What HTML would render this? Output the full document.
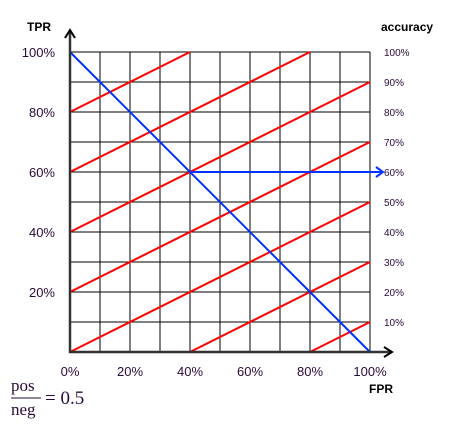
<!DOCTYPE html>
<html><head><meta charset="utf-8"><style>
body{margin:0;background:#fff;width:464px;height:430px;overflow:hidden}
svg text{font-family:"Liberation Sans",sans-serif}
</style></head><body>
<svg id="c" width="464" height="430"></svg>
<script>
const gridTicks=[0,0.1,0.2,0.3,0.4,0.5,0.6,0.7,0.8,0.9,1];
const leftTicks=[0.2,0.4,0.6,0.8,1];
const leftLabels=["20%","40%","60%","80%","100%"];
const bottomTicks=[0,0.2,0.4,0.6,0.8,1];
const bottomLabels=["0%","20%","40%","60%","80%","100%"];
const accTicks=[0.1,0.2,0.3,0.4,0.5,0.6,0.7,0.8,0.9,1];
const accLabels=["10%","20%","30%","40%","50%","60%","70%","80%","90%","100%"];
const isoOffsets=[0.8,0.6,0.4,0.2,0,-0.2,-0.4];
const isoSlope=0.5;
const chanceLine=[[0,1],[1,0]];
const highlightY=0.6, highlightX0=0.4;
const X=v=>70+v*300, Y=v=>352-v*300;
const s=document.getElementById('c'),NS="http://www.w3.org/2000/svg";
function el(t,a,txt){const e=document.createElementNS(NS,t);for(const k in a)e.setAttribute(k,a[k]);if(txt!=null)e.textContent=txt;s.appendChild(e);return e;}
gridTicks.forEach(v=>{
 let l=el('line',{x1:X(v),x2:X(v),y1:Y(0),y2:Y(1),stroke:'#000','stroke-width':1});
 
 
 l=el('line',{x1:X(0),x2:X(1),y1:Y(v),y2:Y(v),stroke:'#000','stroke-width':1});
 
 
});
isoOffsets.forEach(c=>{
 let x0=c<0?-c/isoSlope:0, y0=c<0?0:c;
 let x1=Math.min(1,(1-c)/isoSlope), y1=c+isoSlope*x1;
 const l=el('line',{x1:X(x0),y1:Y(y0),x2:X(x1),y2:Y(y1),stroke:'#f00','stroke-width':2});
 
 
});
let b=el('line',{x1:X(chanceLine[0][0]),y1:Y(chanceLine[0][1]),x2:X(chanceLine[1][0]),y2:Y(chanceLine[1][1]),stroke:'#0033ff','stroke-width':2});


b=el('line',{x1:X(highlightX0),y1:Y(highlightY),x2:X(1)+12,y2:Y(highlightY),stroke:'#0033ff','stroke-width':2});


el('path',{d:`M${X(1)+6} ${Y(highlightY)-5} L${X(1)+13} ${Y(highlightY)} L${X(1)+6} ${Y(highlightY)+5}`,fill:'none',stroke:'#0033ff','stroke-width':2});
let a=el('line',{x1:70,y1:353,x2:70,y2:31,stroke:'#333','stroke-width':2.5});

el('path',{d:'M65 38 L70 30 L75 38',fill:'none',stroke:'#000','stroke-width':2});
a=el('line',{x1:69,y1:352,x2:392,y2:352,stroke:'#333','stroke-width':2.5});

el('path',{d:'M384 347 L392 352 L384 357',fill:'none',stroke:'#000','stroke-width':2});
leftTicks.forEach((v,i)=>{const t=el('text',{x:55,y:Y(v)+5,'text-anchor':'end','font-size':13,fill:'#2a0a3a'},leftLabels[i]);
 });
bottomTicks.forEach((v,i)=>{const t=el('text',{x:X(v),y:376,'text-anchor':'middle','font-size':13,fill:'#2a0a3a'},bottomLabels[i]);
 });
accTicks.forEach((v,i)=>{const t=el('text',{x:384,y:Y(v)+4,'font-size':10,fill:'#2a0a3a'},accLabels[i]);
 });
let t=el('text',{x:27,y:31,'font-size':12,'font-weight':'bold'},'TPR');
t=el('text',{x:381,y:31,'font-size':12,'font-weight':'bold'},'accuracy');
t=el('text',{x:369,y:393,'font-size':12,'font-weight':'bold'},'FPR');
const f=[['pos',11,391],['neg',11,415]];
f.forEach(p=>{const q=el('text',{x:p[1],y:p[2],'font-size':17,style:'font-family:"Liberation Serif",serif',fill:'#2a0a3a'},p[0]);});
el('line',{x1:11,x2:41,y1:398,y2:398,stroke:'#2a0a3a','stroke-width':1});
t=el('text',{x:45,y:404,'font-size':19,style:'font-family:"Liberation Serif",serif',fill:'#2a0a3a'},'= 0.5');
</script>
</body></html>
